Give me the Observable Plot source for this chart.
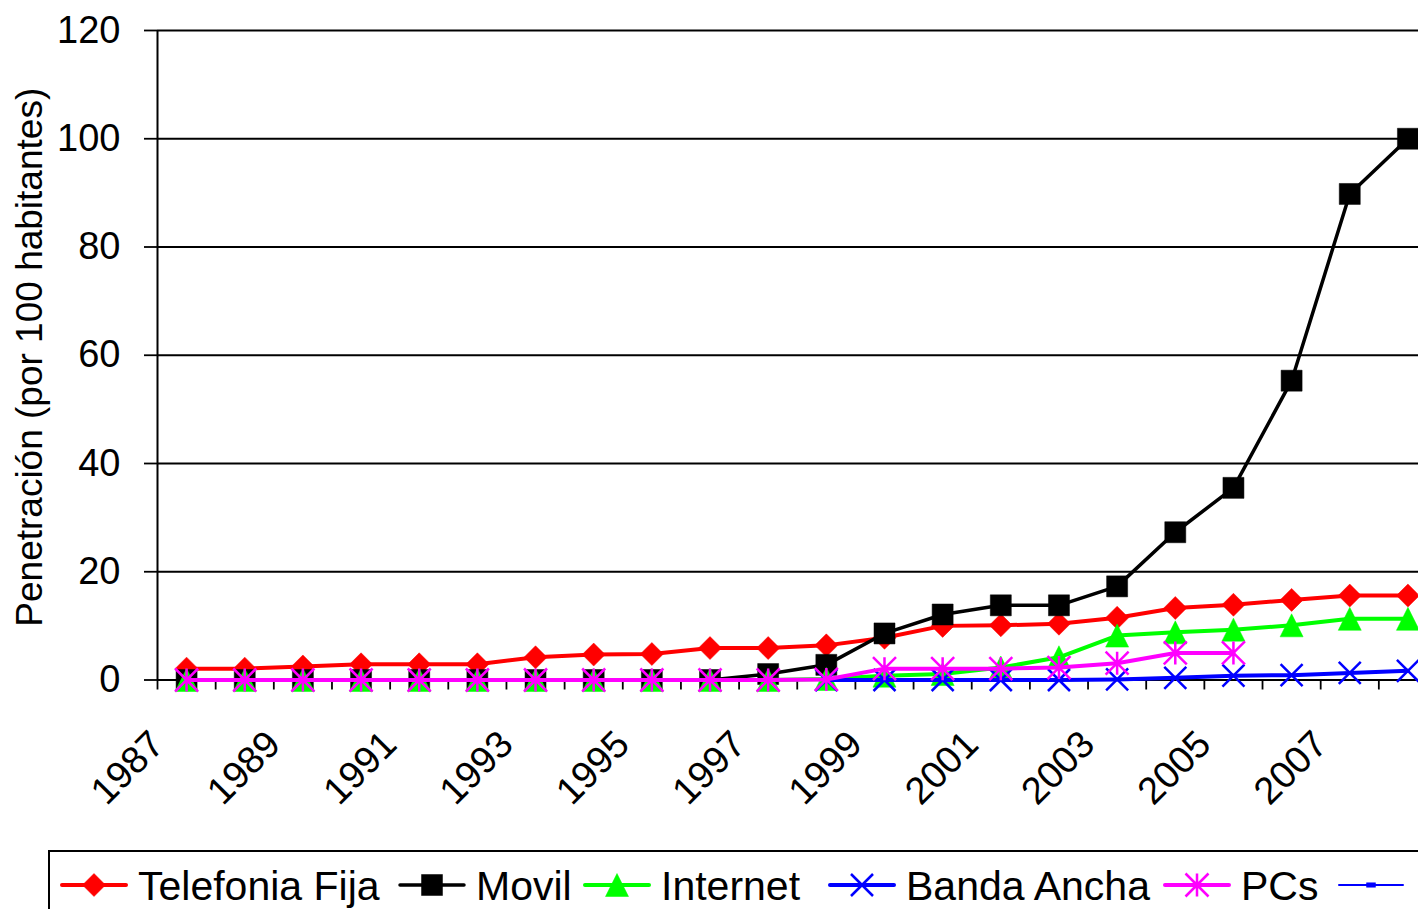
<!DOCTYPE html>
<html>
<head>
<meta charset="utf-8">
<script src="https://cdn.jsdelivr.net/npm/d3@7"></script>
<script src="https://cdn.jsdelivr.net/npm/@observablehq/plot@0.6"></script>
<style>
  html, body { margin: 0; padding: 0; background: #fff; overflow: hidden; }
  body { width: 1418px; height: 909px; position: relative; font-family: "Liberation Sans", Arial, sans-serif; }
  #chart { position: absolute; left: 0; top: 0; width: 1460px; }
  #chart svg { max-width: none !important; width: 1460px; height: 840px; }
  #legend { position: absolute; left: 48px; top: 850px; }
</style>
</head>
<body>
<div id="chart"></div>
<div id="legend"></div>
<script>
// ---- data ----
const years = [1987,1988,1989,1990,1991,1992,1993,1994,1995,1996,1997,1998,1999,2000,2001,2002,2003,2004,2005,2006,2007,2008];
const telefoniaFija = [2.1,2.1,2.5,2.9,2.9,2.9,4.2,4.7,4.8,5.9,5.9,6.4,7.8,10.0,10.1,10.4,11.5,13.3,13.9,14.8,15.6,15.6];
const movil = [0,0,0,0,0,0,0,0,0,0,1.1,2.8,8.6,12.1,13.8,13.8,17.3,27.3,35.5,55.3,89.8,100.0];
const internet = [0,0,0,0,0,0,0,0,0,0,0,0.2,0.8,1.1,2.3,4.2,8.2,8.8,9.3,10.1,11.3,11.3];
const bandaAnchaYears = [1998,1999,2000,2001,2002,2003,2004,2005,2006,2007,2008];
const bandaAncha = [0,0,0,0,0,0.1,0.4,0.8,0.9,1.3,1.7];
const pcsYears = [1987,1988,1989,1990,1991,1992,1993,1994,1995,1996,1997,1998,1999,2000,2001,2002,2003,2004,2005];
const pcs = [0,0,0,0,0,0,0,0,0,0,0,0.1,2.1,2.1,2.1,2.3,3.1,5.0,5.0];
const seriesNames = ["Telefonia Fija","Movil","Internet","Banda Ancha","PCs",""];
const seriesColors = ["#ff0000","#000000","#00ff00","#0000ff","#ff00ff","#0000ff"];
const yTicks = [0,20,40,60,80,100,120];
const xLabelYears = [1987,1989,1991,1993,1995,1997,1999,2001,2003,2005,2007];
const yTitle = "Penetración (por 100 habitantes)";

// ---- custom Excel-like symbols (r = sqrt(size/PI)) ----
const R = s => Math.sqrt(s / Math.PI);
const symDiamond = {draw(c, s){ const r = R(s); c.moveTo(0,-r); c.lineTo(r,0); c.lineTo(0,r); c.lineTo(-r,0); c.closePath(); }};
const symSquare = {draw(c, s){ const r = R(s); c.moveTo(-r,-r); c.lineTo(r,-r); c.lineTo(r,r); c.lineTo(-r,r); c.closePath(); }};
const symTriangle = {draw(c, s){ const r = R(s); c.moveTo(0,-r); c.lineTo(r,r); c.lineTo(-r,r); c.closePath(); }};
const symTimes = {draw(c, s){ const r = R(s); c.moveTo(-r,-r); c.lineTo(r,r); c.moveTo(-r,r); c.lineTo(r,-r); }};
const symAsterisk = {draw(c, s){ const r = R(s); c.moveTo(-r,-r); c.lineTo(r,r); c.moveTo(-r,r); c.lineTo(r,-r); c.moveTo(0,-r); c.lineTo(0,r); }};
const symDash = {draw(c, s){ const r = R(s); c.moveTo(-r,-r*0.5); c.lineTo(r,-r*0.5); c.lineTo(r,r*0.5); c.lineTo(-r,r*0.5); c.closePath(); }};

const styles = [
  {symbol: symDiamond, r: 11.5, filled: true, lw: 4},
  {symbol: symSquare, r: 10.5, filled: true, lw: 3.5},
  {symbol: symTriangle, r: 11.5, filled: true, lw: 4},
  {symbol: symTimes, r: 11, filled: false, lw: 4},
  {symbol: symAsterisk, r: 11.5, filled: false, lw: 4},
  {symbol: symDash, r: 4.5, filled: true, lw: 2}
];

const rows = (xs, vs) => xs.map((x, i) => ({x, v: vs[i]}));
const data = [
  rows(years, telefoniaFija),
  rows(years, movil),
  rows(years, internet),
  rows(bandaAnchaYears, bandaAncha),
  rows(pcsYears, pcs)
];

const boundaries = d3.range(years.length + 1).map(i => years[0] - 0.5 + i);

const seriesMarks = data.flatMap((d, i) => {
  const st = styles[i], col = seriesColors[i];
  return [
    Plot.line(d, {x: "x", y: "v", stroke: col, strokeWidth: st.lw, strokeLinejoin: "round", strokeLinecap: "round"}),
    Plot.dot(d, {x: "x", y: "v", symbol: st.symbol, r: st.r,
      fill: st.filled ? col : "none", stroke: col, strokeWidth: st.filled ? 0.5 : 2.5})
  ];
});

const chart = Plot.plot({
  width: 1460,
  height: 840,
  marginLeft: 157,
  marginRight: 23.5,
  marginTop: 30,
  marginBottom: 160.5,
  style: {fontFamily: '"Liberation Sans", Arial, sans-serif', background: "#fff", color: "#000", maxWidth: "none"},
  x: {domain: [years[0] - 0.5, years[years.length - 1] + 0.5], axis: null},
  y: {domain: [0, 120], axis: null},
  marks: [
    Plot.ruleY(yTicks.slice(1), {stroke: "#000", strokeWidth: 1.8}),
    Plot.axisY({ticks: yTicks, tickSize: 13, tickPadding: 24, fontSize: 38, stroke: "#000", strokeWidth: 1.8, label: null}),
    Plot.axisX({ticks: boundaries, tickSize: 10, tickFormat: () => "", stroke: "#000", strokeWidth: 1.8, label: null}),
    Plot.ruleX([years[0] - 0.5], {stroke: "#000", strokeWidth: 2}),
    Plot.ruleY([0], {stroke: "#000", strokeWidth: 2}),
    Plot.text(xLabelYears, {x: d => d, y: 0, text: d => String(d), rotate: -45, textAnchor: "end", dx: -29, dy: 58, fontSize: 38, fill: "#000"}),
    Plot.text([yTitle], {frameAnchor: "left", text: d => d, rotate: -90, textAnchor: "middle", dx: -127, dy: 2, fontSize: 37, fill: "#000"}),
    ...seriesMarks
  ]
});
chart.style.maxWidth = "none";
document.getElementById("chart").appendChild(chart);

// ---- legend ----
const legendX = [14, 352, 537, 782, 1117, 1291];   // line start (relative to box)
const lg = d3.select("#legend").append("svg").attr("width", 1500).attr("height", 80)
  .style("font-family", '"Liberation Sans", Arial, sans-serif');
lg.append("rect").attr("x", 1).attr("y", 1).attr("width", 1480).attr("height", 90)
  .attr("fill", "#fff").attr("stroke", "#000").attr("stroke-width", 2);
seriesNames.forEach((name, i) => {
  const st = styles[i], col = seriesColors[i];
  const x0 = legendX[i], cy = 35;
  lg.append("line").attr("x1", x0).attr("x2", x0 + 64).attr("y1", cy).attr("y2", cy)
    .attr("stroke", col).attr("stroke-width", st.lw).attr("stroke-linecap", "round");
  lg.append("path").attr("transform", `translate(${x0 + 32},${cy})`)
    .attr("d", d3.symbol(st.symbol, Math.PI * st.r * st.r)())
    .attr("fill", st.filled ? col : "none").attr("stroke", col).attr("stroke-width", st.filled ? 0.5 : 2.5);
  if (name) lg.append("text").attr("x", x0 + 76).attr("y", cy).attr("dy", "0.36em")
    .attr("font-size", 41).attr("fill", "#000").text(name);
});
</script>
</body>
</html>
